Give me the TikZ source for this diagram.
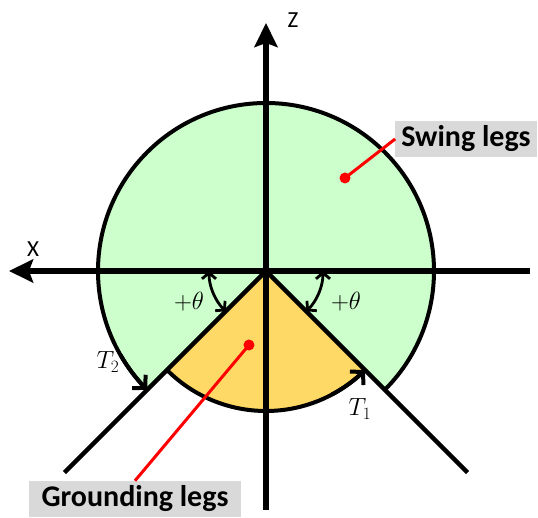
\documentclass[tikz,border=0pt]{standalone}
\usepackage{fontspec}
\newfontfamily\labelfont{Carlito}
\usetikzlibrary{arrows.meta}
\definecolor{swinggreen}{RGB}{204,255,204}
\definecolor{groundorange}{RGB}{255,217,102}
\definecolor{boxgray}{RGB}{217,217,217}
\definecolor{leadred}{RGB}{255,0,0}

\begin{document}
\begin{tikzpicture}[x=1pt,y=1pt,
  axisline/.style={line width=6pt,-{Stealth[length=24pt,width=23pt,inset=4pt]}},
  legline/.style={line width=4.5pt},
  rimline/.style={line width=4pt},
  anglearc/.style={line width=2.8pt,{Straight Barb[length=6pt,width=14pt]}-{Straight Barb[length=6pt,width=14pt]}},
  tangenttip/.style={line width=4pt,-{Straight Barb[length=9pt,width=19pt]}},
  mathlabel/.style={font=\fontsize{25}{30}\selectfont},
  axislabel/.style={font=\labelfont\fontsize{23}{26}\selectfont},
  legbox/.style={fill=boxgray, inner xsep=6pt, inner ysep=5pt, font=\labelfont\bfseries\fontsize{30}{34}\selectfont},
  leaddot/.style={circle, fill=leadred, inner sep=0pt, minimum size=11pt},
  leadline/.style={leadred, line width=3pt}]
  \useasboundingbox (-266,-247) rectangle (272,271);
  \coordinate (O) at (0,0);

  % Swing and grounding regions
  \fill[swinggreen] (O) -- (-45:168) arc (-45:225:168) -- cycle;
  \fill[groundorange] (O) -- (-135:140) arc (-135:-45:140) -- cycle;
  \draw[rimline] (-45:168) arc (-45:225:168);
  \draw[rimline] (-135:140) arc (-135:-45:140);

  % Legs
  \coordinate (legR) at (-45:285);
  \coordinate (legL) at (-135:285);
  \draw[legline] (O) -- (legR);
  \draw[legline] (O) -- (legL);

  % Axes
  \coordinate (xend) at (264,0);
  \coordinate (xtip) at (-257,0);
  \coordinate (zend) at (0,-239);
  \coordinate (ztip) at (0,248);
  \draw[axisline] (xend) -- (xtip);
  \draw[axisline] (zend) -- (ztip);
  \node[axislabel] (xlab) at (-233,22) {X};
  \node[axislabel] (zlab) at (27,251) {Z};

  % Angles
  \draw[anglearc] (0:57) arc (0:-45:57);
  \draw[anglearc] (180:57) arc (180:225:57);
  \node[mathlabel] (thR) at (80,-31) {$+\theta$};
  \node[mathlabel] (thL) at (-77,-31) {$+\theta$};

  % Touchdown and lift-off
  \draw[tangenttip] (-62:140) arc (-62:-45:140);
  \draw[tangenttip] (210:168) arc (210:225:168);
  \node[mathlabel] (T1) at (94,-138) {$T_1$};
  \node[mathlabel] (T2) at (-158,-91) {$T_2$};

  % Labels
  \node[legbox] (swingbox) at (200,132) {Swing legs};
  \node[legbox, minimum width=212pt] (groundbox) at (-131,-228) {Grounding legs};
  \node[leaddot] (swingdot) at (79,93) {};
  \node[leaddot] (grounddot) at (-17,-74) {};
  \draw[leadline] (swingdot.center) -- (swingbox.west);
  \draw[leadline] (grounddot.center) -- (groundbox.north);
\end{tikzpicture}
\end{document}
